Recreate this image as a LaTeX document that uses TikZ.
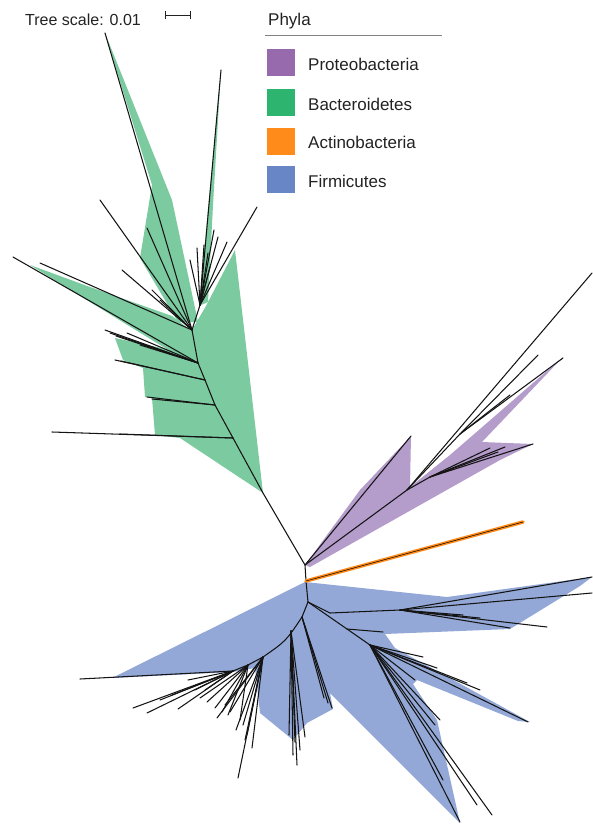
\documentclass[tikz,border=0pt]{standalone}
\usepackage{fontspec}
\setmainfont{Liberation Sans}
\definecolor{gfill}{HTML}{7CCAA0}
\definecolor{pfill}{HTML}{B49CCB}
\definecolor{bfill}{HTML}{93A8D6}
\definecolor{gleg}{HTML}{2DB46F}
\definecolor{pleg}{HTML}{9769AD}
\definecolor{oleg}{HTML}{FF8C1A}
\definecolor{bleg}{HTML}{6886C5}
\definecolor{txt}{HTML}{222222}
\begin{document}
\begin{tikzpicture}[x=1pt,y=-1pt,
  br/.style={line width=1.05pt, draw=black!92, line cap=round},
  swatch/.style={minimum width=28pt, minimum height=27pt, inner sep=0pt, draw=none},
  legtext/.style={anchor=base west, inner sep=0pt, text=txt, font=\fontsize{17}{20}\selectfont},
]
\useasboundingbox (0,0) rectangle (592,827);

% ---------------- tree nodes ----------------
\coordinate (G0) at (263,493);
\coordinate (G1) at (233,438);
\coordinate (G2) at (215,405);
\coordinate (G3) at (205,380);
\coordinate (G4) at (198,363);
\coordinate (G5) at (192,330);
\coordinate (G6) at (200,305);
\coordinate (P0) at (305,565);
\coordinate (P1) at (407,490);
\coordinate (P2) at (460,434);
\coordinate (P3) at (430,477);
\coordinate (O0) at (306,581);
\coordinate (Otip) at (523,522);
\coordinate (F0) at (308,602);
\coordinate (F1) at (302,617);
\coordinate (F2) at (263,657);
\coordinate (F5) at (248,665);
\coordinate (F3) at (233,671);
\coordinate (F4) at (291,631);
\coordinate (Fa) at (330,613);
\coordinate (Fb) at (400,610);
\coordinate (Fc) at (347,629);
\coordinate (Fd) at (370,645);
\coordinate (Ftip) at (80,679);

% ---------------- fills ----------------
% Bacteroidetes
\fill[gfill] (G0) -- (235,250) -- (206,306) -- (G5) -- (G4) -- (G3) -- (G2) -- (G1) -- cycle;
\fill[gfill] (199,306) -- (221,70) -- (213,205) -- (208,302) -- cycle;
\fill[gfill] (105,33) -- (172,200) -- (198,322) -- (178,322) -- (140,258) -- (152,185) -- cycle;
\fill[gfill] (30,265) -- (90,287) -- (172,316) -- (193,332) -- (200,365) -- (178,356) -- (90,302) -- cycle;
\fill[gfill] (115,338) -- (180,352) -- (198,363) -- (205,380) -- (215,405) -- (233,438) -- (263,493)
  -- (180,438) -- (155,435) -- (152,398) -- (145,397) -- (143,368) -- (123,360) -- cycle;
% Proteobacteria
\fill[pfill] (305,565) -- (360,490) -- (411,436) -- (410,487) -- (450,455) -- (563,357)
  -- (482,442) -- (533,444) -- (500,460) -- (310,567) -- cycle;
% Firmicutes
\fill[bfill] (305,582) -- (447,597) -- (592,577) -- (580,586) -- (510,629) -- (385,634) -- (395,648)
  -- (530,722) -- (518,721) -- (417,680) -- (413,684) -- (437,720) -- (460,823) -- (330,693)
  -- (333,709) -- (307,723) -- (293,740) -- (260,713) -- (255,668) -- (233,672) -- (112,678) -- cycle;

% backbone
\draw[br] (G0) -- (P0) -- (O0) -- (F0);
\draw[br] (G0) -- (G1) -- (G2) -- (G3) -- (G4) -- (G5) -- (G6);

% Bacteroidetes tips
\foreach \p in {(52,432),(120,434)} \draw[br] (G1) -- \p;
\foreach \p in {(147,397),(152,399)} \draw[br] (G2) -- \p;
\foreach \p in {(115,360),(121,361)} \draw[br] (G3) -- \p;
\foreach \p in {(105,330),(110,333),(116,336),(127,333),(13,257),(140,345)} \draw[br] (G4) -- \p;
\foreach \p in {(40,263),(122,270),(100,200),(105,33),(147,228),(152,290),(160,300)} \draw[br] (G5) -- \p;
\foreach \p in {(221,70),(257,207),(190,260),(197,248),(208,253),(210,267),(218,237),(227,242),(214,230),(204,245)} \draw[br] (G6) -- \p;

% Proteobacteria
\draw[br] (P0) -- (411,436);
\draw[br] (P0) -- (P1);
\draw[br] (P1) -- (592,273);
\draw[br] (P1) -- (P2);
\foreach \p in {(538,355),(563,358),(510,395)} \draw[br] (P2) -- \p;
\draw[br] (P1) -- (P3);
\foreach \p in {(533,444),(498,452),(490,448),(505,447)} \draw[br] (P3) -- \p;

% Actinobacteria
\draw[oleg, line width=3.6pt, line cap=round] (O0) -- (Otip);
\draw[black, line width=0.5pt] (O0) -- (Otip);

% Firmicutes
\draw[br] (F0) -- (F1);
\draw[br] (F1) .. controls (286,641) .. (F2) -- (F5) -- (F3) -- (Ftip);
\foreach \p in {(217,718),(243,725),(252,748),(238,778),(230,712),(247,735),(225,705),(236,730),(245,740)} \draw[br] (F2) -- \p;
\foreach \p in {(207,702),(215,708),(222,712),(228,715),(240,720),(200,698)} \draw[br] (F5) -- \p;
\foreach \p in {(133,708),(147,713),(178,709),(188,680),(160,700),(195,690),(172,695),(205,690)} \draw[br] (F3) -- \p;
\foreach \p in {(297,765),(295,742),(300,750),(305,737),(289,735),(293,755)} \draw[br] (F4) -- \p;
\foreach \p in {(332,708),(328,703),(324,698)} \draw[br] (F1) -- \p;
\draw[br] (F0) -- (Fa) -- (Fb);
\foreach \p in {(592,577),(592,593),(547,627),(510,628),(463,615),(480,618)} \draw[br] (Fb) -- \p;
\draw[br] (F0) -- (Fc) -- (Fd);
\draw[br] (Fc) -- (383,632);
\foreach \p in {(423,657),(437,668),(415,680),(528,722),(467,683),(480,690),(440,720),(435,725),(460,822),(477,805),(492,815),(443,780)} \draw[br] (Fd) -- \p;

% ---------------- legend ----------------
\node[anchor=base west, inner sep=0pt, text=txt, font=\fontsize{16}{19}\selectfont] (ts) at (25,25) {Tree scale: 0.01};
\coordinate (sb1) at (165,15);
\coordinate (sb2) at (190,15);
\draw[txt, line width=0.8pt] (sb1) -- (sb2);
\draw[txt, line width=0.8pt] ([yshift=-4pt]sb1) -- ([yshift=4pt]sb1);
\draw[txt, line width=0.8pt] ([yshift=-4pt]sb2) -- ([yshift=4pt]sb2);

\node[legtext] (phyla) at (268,25) {Phyla};
\coordinate (rl1) at (265,35);
\coordinate (rl2) at (442,35);
\draw[gray, line width=0.6pt] (rl1) -- (rl2);

\node[swatch, fill=pleg] (s1) at (281,62.5) {};
\node[swatch, fill=gleg] (s2) at (281,102.5) {};
\node[swatch, fill=oleg] (s3) at (281,141.5) {};
\node[swatch, fill=bleg] (s4) at (281,179.5) {};
\node[legtext] (l1) at (308,70) {Proteobacteria};
\node[legtext] (l2) at (308,110) {Bacteroidetes};
\node[legtext] (l3) at (308,148) {Actinobacteria};
\node[legtext] (l4) at (308,187) {Firmicutes};
\end{tikzpicture}
\end{document}
